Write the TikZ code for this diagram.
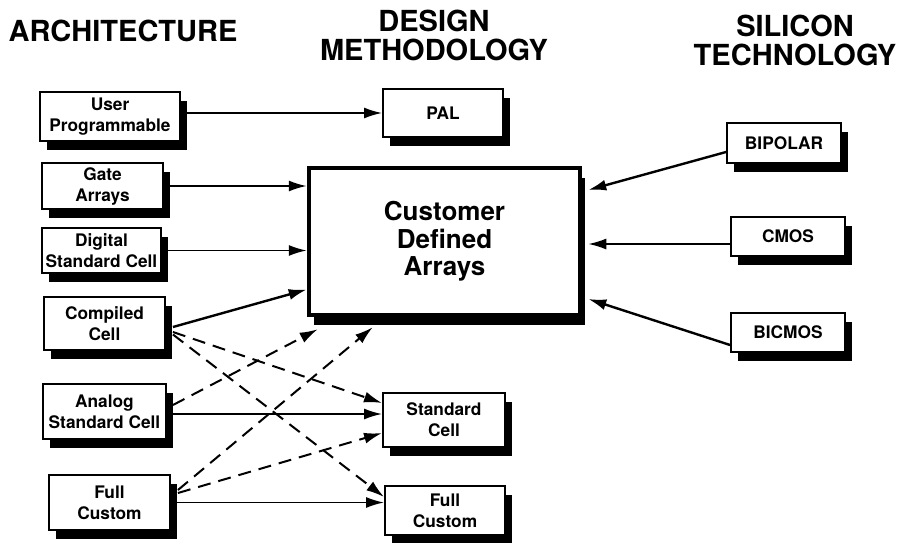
\documentclass[tikz,border=0pt]{standalone}
\usepackage{fontspec}
\setmainfont{TeX Gyre Heros}
\usetikzlibrary{arrows.meta,shadows}
\begin{document}
\begin{tikzpicture}[x=1pt,y=-1pt,
    boxbase/.style={draw,fill=white,align=center,inner sep=0pt},
    box/.style={boxbase,line width=1.9pt,font=\fontsize{17.3}{21}\selectfont\bfseries,
      drop shadow={shadow xshift=7pt,shadow yshift=-9pt,fill=black,opacity=1}},
    bigbox/.style={boxbase,line width=4.5pt,font=\fontsize{26}{27.5}\selectfont\bfseries,
      drop shadow={shadow xshift=5pt,shadow yshift=-10pt,fill=black,opacity=1}},
    head/.style={align=center,inner sep=0pt,font=\fontsize{29}{29}\selectfont\bfseries},
    conn/.style={line width=1.8pt,-{Latex[length=18pt,width=11pt]}},
    dconn/.style={conn,line width=2pt,dash pattern=on 13pt off 8pt}]
  \useasboundingbox (0,0) rectangle (910,543);
  % column headings
  \node[head] (arch) at (123,31) {ARCHITECTURE};
  \node[head] (meth) at (434,35.5) {DESIGN\\METHODOLOGY};
  \node[head] (tech) at (795,40.5) {SILICON\\TECHNOLOGY};
  % architecture
  \node[box,minimum width=140pt,minimum height=49pt] (user) at (110,116.5) {User\\Programmable};
  \node[box,minimum width=121pt,minimum height=46pt] (gate) at (102.5,186) {Gate\\Arrays};
  \node[box,minimum width=119pt,minimum height=45pt] (digital) at (101.5,250.5) {Digital\\Standard Cell};
  \node[box,minimum width=121pt,minimum height=53pt] (compiled) at (104.5,323.5) {Compiled\\Cell};
  \node[box,minimum width=123pt,minimum height=55pt] (analog) at (104.5,411.5) {Analog\\Standard Cell};
  \node[box,minimum width=121pt,minimum height=55pt] (fullL) at (109.5,502.5) {Full\\Custom};
  % design methodology
  \node[box,minimum width=120pt,minimum height=48pt] (pal) at (443,113) {PAL};
  \node[bigbox,minimum width=271pt,minimum height=147pt] (cda) at (444.5,241.5) {Customer\\Defined\\Arrays};
  \node[box,minimum width=122pt,minimum height=54pt] (stdcell) at (444,420) {Standard\\Cell};
  \node[box,minimum width=120pt,minimum height=49pt] (fullM) at (445,510.5) {Full\\Custom};
  % silicon technology
  \node[box,minimum width=114pt,minimum height=40pt] (bipolar) at (784,143) {BIPOLAR};
  \node[box,minimum width=114pt,minimum height=39pt] (cmos) at (788,236.5) {CMOS};
  \node[box,minimum width=114pt,minimum height=39pt] (bicmos) at (788,332.5) {BICMOS};
  % solid connectors
  \draw[conn] (user.east |- pal.west) -- (pal.west);
  \draw[conn] (gate.east) -- (gate.east -| cda.west);
  \draw[conn] (digital.east) -- (digital.east -| cda.west);
  \draw[conn,line width=2.4pt] ([xshift=7pt,yshift=-3.5pt]compiled.east) -- ([yshift=-48pt]cda.west);
  \draw[conn] ([yshift=-2.5pt]analog.east) -- ([yshift=-2.5pt]analog.east -| stdcell.west);
  \draw[conn] (fullL.east) -- (fullL.east -| fullM.west);
  \draw[conn,line width=2.4pt] ([yshift=-9pt]bipolar.west) -- ([xshift=6pt,yshift=51.5pt]cda.east);
  \draw[conn] ([yshift=-7.5pt]cmos.west) -- ([xshift=6pt,yshift=-2.5pt]cda.east);
  \draw[conn,line width=2.4pt] ([yshift=-12.5pt]bicmos.west) -- ([xshift=6pt,yshift=-57.5pt]cda.east);
  % dashed connectors
  \draw[dconn] ([xshift=7pt,yshift=-8.5pt]compiled.east) -- ([yshift=17pt]stdcell.west);
  \draw[dconn] ([xshift=7pt,yshift=-11pt]compiled.east) -- ([yshift=13.5pt]fullM.west);
  \draw[dconn] ([xshift=6pt,yshift=6.5pt]analog.east) -- ([xshift=11pt,yshift=-12pt]cda.south west);
  \draw[dconn] ([xshift=7pt,yshift=12.5pt]fullL.east) -- ([xshift=66pt,yshift=-10pt]cda.south west);
  \draw[dconn] ([xshift=7pt,yshift=9.5pt]fullL.east) -- ([yshift=-13pt]stdcell.west);
\end{tikzpicture}
\end{document}
